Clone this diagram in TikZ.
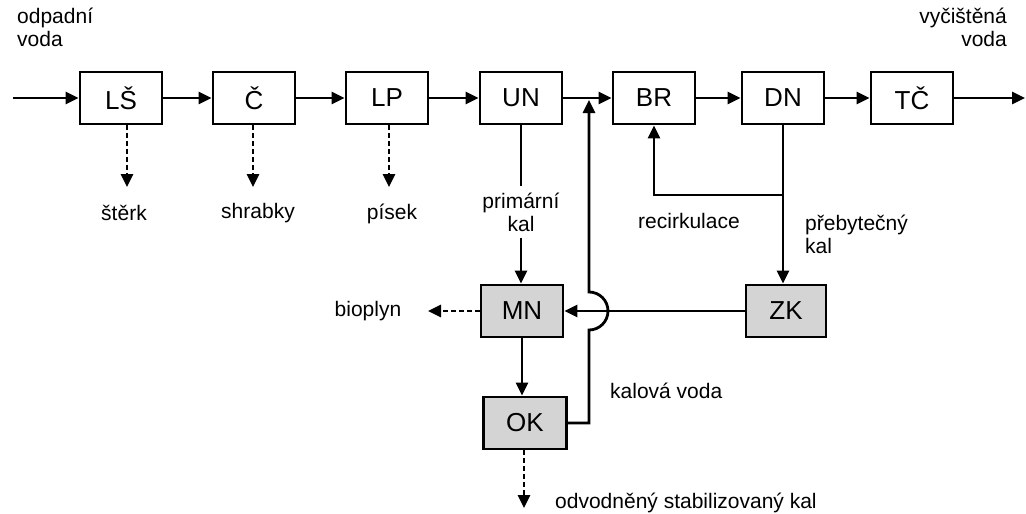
\documentclass[tikz,border=0pt]{standalone}
\usepackage{fontspec}
\setmainfont{Liberation Sans}
\usetikzlibrary{arrows.meta}
\definecolor{boxgray}{RGB}{212,212,212}
\begin{document}
\begin{tikzpicture}[x=1pt,y=-1pt,
  proc/.style={draw, line width=2.8pt, minimum width=82pt, minimum height=52pt, inner sep=0pt, font=\fontsize{26}{28}\selectfont},
  grayproc/.style={proc, fill=boxgray},
  lbl/.style={font=\fontsize{21}{23}\selectfont, inner sep=2pt},
  conn/.style={line width=2.8pt},
  arr/.style={conn, -{Triangle[length=13pt,width=12pt]}},
  dasharr/.style={conn, dash pattern=on 5pt off 3pt, -{Triangle[length=13pt,width=12pt]}}
]
\useasboundingbox (0,0) rectangle (1026,514);
% main line boxes
\node[proc] (LS) at (121,98) {LŠ};
\node[proc] (C)  at (254,98) {Č};
\node[proc] (LP) at (387,98) {LP};
\node[proc] (UN) at (521,98) {UN};
\node[proc] (BR) at (654,98) {BR};
\node[proc] (DN) at (783,98) {DN};
\node[proc] (TC) at (912,98) {TČ};
% sludge boxes
\node[grayproc] (MN) at (522,311) {MN};
\node[grayproc, minimum width=80pt] (ZK) at (786,311) {ZK};
\node[grayproc, minimum width=83pt] (OK) at (525,423) {OK};
% text labels
\node[lbl, anchor=west, align=left] (odp) at (15,27) {odpadní\\voda};
\node[lbl, anchor=east, align=right] (vyc) at (1009,27) {vyčištěná\\voda};
\node[lbl] (ster) at (124,213) {štěrk};
\node[lbl] (shr) at (258,213) {shrabky};
\node[lbl] (pis) at (392,214) {písek};
\node[lbl, align=center, inner sep=6pt] (pk) at (521,212) {primární\\kal};
\node[lbl] (rec) at (689,221) {recirkulace};
\node[lbl, anchor=west, align=left] (preb) at (803,234) {přebytečný\\kal};
\node[lbl] (bio) at (368,311) {bioplyn};
\node[lbl, anchor=west] (kv) at (608,391) {kalová voda};
\node[lbl, anchor=west] (odv) at (553,503) {odvodněný stabilizovaný kal};
% coordinates
\coordinate (in) at (13,98);
\coordinate (out) at (1025,98);
\coordinate (d1) at (127,187);
\coordinate (d2) at (253,187);
\coordinate (d3) at (389,187);
\coordinate (fbtop) at (589,100);
\coordinate (fbbot) at (589,423);
\coordinate (dnj) at (783,195);
\coordinate (bioA) at (428,311);
\coordinate (okA) at (524,508);
% main flow
\draw[arr] (in) -- (LS);
\draw[arr] (LS) -- (C);
\draw[arr] (C) -- (LP);
\draw[arr] (LP) -- (UN);
\draw[arr] (UN) -- (BR);
\draw[arr] (BR) -- (DN);
\draw[arr] (DN) -- (TC);
\draw[arr] (TC) -- (out);
% dashed outputs
\draw[dasharr] (d1 |- LS.south) -- (d1);
\draw[dasharr] (d2 |- C.south) -- (d2);
\draw[dasharr] (d3 |- LP.south) -- (d3);
% primary sludge
\draw[conn] (UN.south) -- (UN.south |- pk.north);
\draw[arr] (UN.south |- pk.south) -- (UN.south |- MN.north);
% DN outputs
\draw[conn] (DN.south) -- (dnj);
\draw[arr] (dnj) -| (BR.south);
\draw[arr] (dnj) -- (dnj |- ZK.north);
% ZK to MN
\draw[arr] (ZK.west) -- (MN.east);
% MN to OK
\draw[arr] (MN.south) -- (MN.south |- OK.north);
% bioplyn
\draw[dasharr] (MN.west) -- (bioA);
% OK out
\draw[dasharr] (okA |- OK.south) -- (okA);
% sludge water return with jump
\draw[conn, -{Triangle[length=13pt,width=12pt]}] (OK.east) -- (fbbot) -- (589,330) arc[start angle=-90, end angle=90, radius=19pt] -- (fbtop);
\end{tikzpicture}
\end{document}
